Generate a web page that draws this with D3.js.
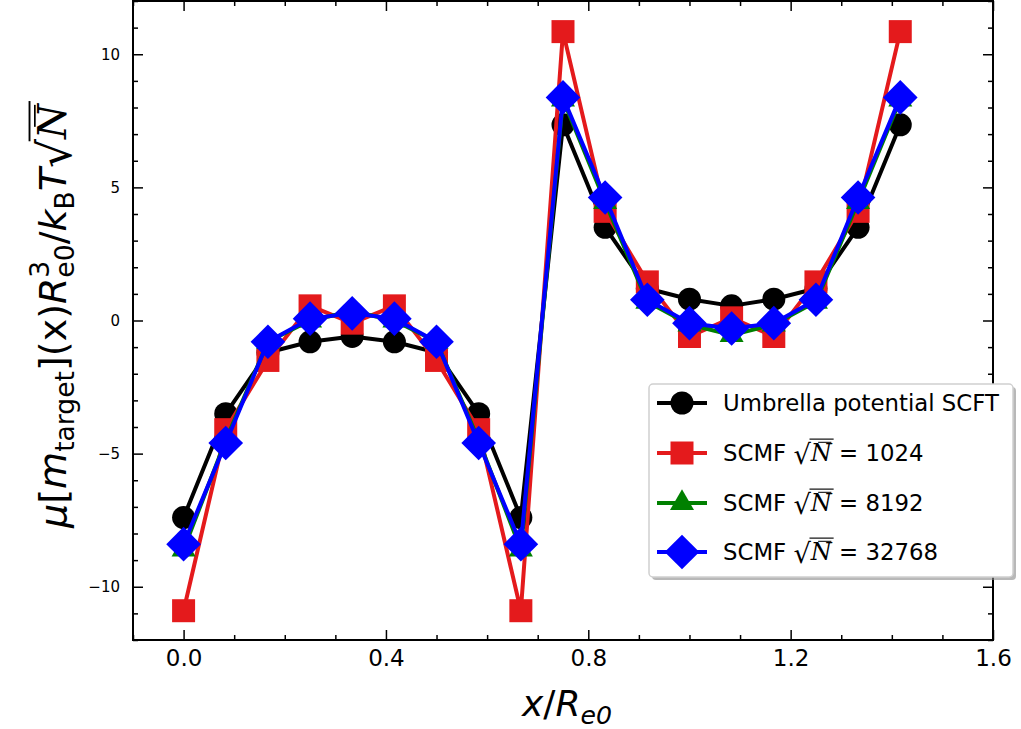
<!DOCTYPE html>
<html>
<head>
  <meta charset="utf-8" />
  <title>Chemical potential profile</title>
  <script src="https://d3js.org/d3.v7.min.js"></script>
  <style>
    body { margin: 0; background: #fff; }
    svg { display: block; }
    text { font-family: "DejaVu Sans", sans-serif; fill: #000; white-space: pre; }
  </style>
</head>
<body>
<svg id="chart" width="1021" height="729"></svg>
<script>
  // positions x / R_e0
  const xPos = [0, 0.0833, 0.1667, 0.25, 0.3333, 0.4167, 0.5, 0.5833, 0.6667,
                0.75, 0.8333, 0.9167, 1.0, 1.0833, 1.1667, 1.25, 1.3333, 1.4167];

  // series values
  const umbrella = [-7.4, -3.5, -1.2, -0.8, -0.6, -0.8, -1.2, -3.5, -7.4,
                    7.35, 3.5, 1.2, 0.8, 0.55, 0.8, 1.2, 3.5, 7.35];
  const scmf1024 = [-10.9, -4.1, -1.5, 0.55, -0.1, 0.55, -1.5, -4.1, -10.9,
                    10.85, 4.1, 1.45, -0.6, 0.1, -0.6, 1.45, 4.1, 10.85];
  const scmf8192 = [-8.6, -4.5, -0.8, 0.0, 0.35, 0.0, -0.8, -4.5, -8.6,
                    8.3, 4.45, 0.7, -0.15, -0.55, -0.15, 0.7, 4.45, 8.3];
  const scmf32768 = [-8.4, -4.6, -0.8, 0.07, 0.27, 0.07, -0.8, -4.6, -8.4,
                     8.38, 4.62, 0.78, -0.1, -0.3, -0.1, 0.78, 4.62, 8.38];

  const xMajor = [0, 0.4, 0.8, 1.2, 1.6];
  const xMinor = [-0.1, 0.1, 0.2, 0.3, 0.5, 0.6, 0.7, 0.9, 1.0, 1.1, 1.3, 1.4, 1.5];
  const yMajor = [-10, -5, 0, 5, 10];
  const yMinor = [-12, -11, -9, -8, -7, -6, -4, -3, -2, -1, 1, 2, 3, 4, 6, 7, 8, 9, 11, 12];

  const legendNums = ["1024", "8192", "32768"];

  const series = [
    { values: umbrella,  color: "#000000", marker: "circle" },
    { values: scmf1024,  color: "#e41a1c", marker: "square" },
    { values: scmf8192,  color: "#008000", marker: "triangle" },
    { values: scmf32768, color: "#0000ff", marker: "diamond" }
  ];

  const svg = d3.select("#chart");
  const pLeft = 133, pRight = 993, pTop = 1, pBottom = 640;

  const x = d3.scaleLinear().domain([-0.1, 1.6]).range([pLeft, pRight]);
  const y = d3.scaleLinear().domain([-12, 12]).range([pBottom, pTop]);

  // ticks (inward on all four sides)
  function tickAxis(axisFn, scale, vals, size, transform, labels, pad) {
    const a = axisFn(scale).tickValues(vals).tickSize(-size).tickPadding(pad || 8);
    if (!labels) a.tickFormat("");
    const g = svg.append("g").attr("transform", transform).call(a);
    g.select(".domain").remove();
    g.selectAll(".tick line").attr("stroke", "#000").attr("stroke-width", 1.5);
    return g;
  }
  const xb = tickAxis(d3.axisBottom, x, xMajor, 10, `translate(0,${pBottom})`, true, 10);
  xb.selectAll("text").style("font-size", "23px").style("font-family", "DejaVu Sans")
    .text(d => d3.format(".1f")(d));
  tickAxis(d3.axisBottom, x, xMinor, 5, `translate(0,${pBottom})`, false);
  tickAxis(d3.axisTop, x, xMajor, 10, `translate(0,${pTop})`, false);
  tickAxis(d3.axisTop, x, xMinor, 5, `translate(0,${pTop})`, false);
  const yl = tickAxis(d3.axisLeft, y, yMajor, 10, `translate(${pLeft},0)`, true, 13);
  yl.selectAll("text").style("font-size", "15px").style("font-family", "DejaVu Sans");
  tickAxis(d3.axisLeft, y, yMinor, 5, `translate(${pLeft},0)`, false);
  tickAxis(d3.axisRight, y, yMajor, 10, `translate(${pRight},0)`, false);
  tickAxis(d3.axisRight, y, yMinor, 5, `translate(${pRight},0)`, false);

  // frame
  svg.append("rect").attr("x", pLeft).attr("y", pTop)
    .attr("width", pRight - pLeft).attr("height", pBottom - pTop)
    .attr("fill", "none").attr("stroke", "#000").attr("stroke-width", 2);

  // markers
  const symbols = {
    circle:   { type: d3.symbolCircle,   size: Math.PI * 11.5 * 11.5, rot: 0 },
    square:   { type: d3.symbolSquare,   size: 23 * 23, rot: 0 },
    triangle: { type: d3.symbolTriangle, size: 250, rot: 0 },
    diamond:  { type: d3.symbolSquare,   size: 24.5 * 24.5, rot: 45 }
  };
  function drawMarker(g, kind, color, cx, cy) {
    const s = symbols[kind];
    g.append("path")
      .attr("d", d3.symbol().type(s.type).size(s.size)())
      .attr("transform", `translate(${cx},${cy}) rotate(${s.rot})`)
      .attr("fill", color);
  }

  const line = d3.line().x((d, i) => x(xPos[i])).y(d => y(d));
  const plot = svg.append("g");
  series.forEach(s => {
    plot.append("path").datum(s.values).attr("d", line)
      .attr("fill", "none").attr("stroke", s.color).attr("stroke-width", 4)
      .attr("stroke-linejoin", "round");
    s.values.forEach((v, i) => drawMarker(plot, s.marker, s.color, x(xPos[i]), y(v)));
  });

  // math-ish text layout: runs placed one after another, measured in place
  function mathText(g, runs, fs) {
    let cx = 0, lastStart = 0;
    const items = [];
    runs.forEach(r => {
      const start = r.stack ? lastStart : cx;
      const size = fs * (r.scale || 1);
      const t = g.append("text").attr("x", start).attr("y", -(r.shift || 0) * fs)
        .attr("xml:space", "preserve")
        .style("font-size", size + "px")
        .style("font-style", r.italic ? "italic" : "normal")
        .text(r.t);
      if (r.family) t.style("font-family", r.family);
      const w = t.node().getComputedTextLength();
      items.push({ r, start, end: start + w, size });
      if (r.stack) cx = Math.max(cx, start + w);
      else { lastStart = start; cx = start + w; }
    });
    // radical overline and bar over N
    const rad = items.find(d => d.r.rad);
    const nItem = items.find(d => d.r.barred);
    if (rad && nItem) {
      g.append("line").attr("x1", rad.end - 0.05 * rad.size).attr("x2", nItem.end + 0.08 * fs)
        .attr("y1", -rad.size * 0.8).attr("y2", -rad.size * 0.8)
        .attr("stroke", "#000").attr("stroke-width", fs * 0.05);
      g.append("line").attr("x1", nItem.start + 0.32 * fs).attr("x2", nItem.end - 0.02 * fs)
        .attr("y1", -fs * 0.82).attr("y2", -fs * 0.82)
        .attr("stroke", "#000").attr("stroke-width", fs * 0.045);
    }
    return cx;
  }

  const sqrtN = [
    { t: "\u221A", rad: true, scale: 1.2, shift: -0.12 },
    { t: "N", italic: true, barred: true, family: "DejaVu Serif", scale: 1.05 }
  ];

  // y label
  const ylab = svg.append("g").attr("transform", "translate(66,316) rotate(-90)");
  const ylabInner = ylab.append("g");
  const ylw = mathText(ylabInner, [
    { t: "\u03BC", italic: true },
    { t: "[" },
    { t: "m", italic: true },
    { t: "target", scale: 0.7, shift: -0.22 },
    { t: "](x)" },
    { t: "R", italic: true },
    { t: "3", scale: 0.7, shift: 0.45 },
    { t: "e0", scale: 0.7, shift: -0.22, stack: true },
    { t: "/" },
    { t: "k", italic: true },
    { t: "B", scale: 0.7, shift: -0.22 },
    { t: "T", italic: true },
    ...sqrtN
  ], 38);
  ylabInner.attr("transform", `translate(${-ylw / 2},0)`);

  // x label
  const xlab = svg.append("g").attr("transform", "translate(567,716)");
  const xlabInner = xlab.append("g");
  const xlw = mathText(xlabInner, [
    { t: "x", italic: true },
    { t: "/" },
    { t: "R", italic: true },
    { t: "e0", italic: true, scale: 0.7, shift: -0.22 }
  ], 36);
  xlabInner.attr("transform", `translate(${-xlw / 2},0)`);

  // legend
  const lg = svg.append("g");
  lg.append("rect").attr("x", 652).attr("y", 387).attr("width", 364).attr("height", 193)
    .attr("rx", 4).attr("fill", "#888").attr("opacity", 0.6);
  lg.append("rect").attr("x", 649).attr("y", 384).attr("width", 364).attr("height", 193)
    .attr("rx", 4).attr("fill", "#fff").attr("stroke", "#d0d0d0").attr("stroke-width", 1.5);
  const rowY = [403, 453, 503, 552];
  series.forEach((s, i) => {
    lg.append("line").attr("x1", 657).attr("x2", 707).attr("y1", rowY[i]).attr("y2", rowY[i])
      .attr("stroke", s.color).attr("stroke-width", 4);
    drawMarker(lg, s.marker, s.color, 682, rowY[i]);
    const tg = lg.append("g").attr("transform", `translate(723,${rowY[i] + 8})`);
    if (i === 0) {
      mathText(tg, [{ t: "Umbrella potential SCFT" }], 22.8);
    } else {
      mathText(tg, [
        { t: "SCMF " },
        ...sqrtN,
        { t: " = " + legendNums[i - 1] }
      ], 22.8);
    }
  });
</script>
</body>
</html>
